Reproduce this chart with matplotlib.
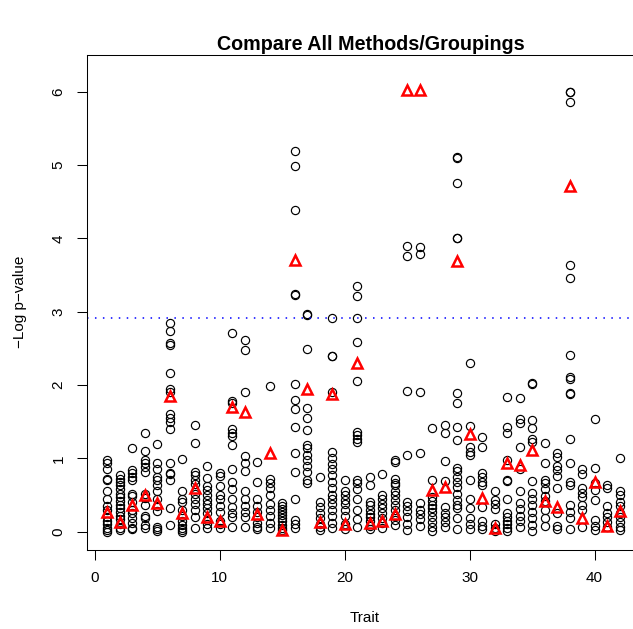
import matplotlib
matplotlib.use("Agg")
import matplotlib.pyplot as plt

plt.rcParams['font.family'] = ['Liberation Sans', 'DejaVu Sans']

traits = list(range(1, 43))

circle_vals = [
    [0.98, 0.93, 0.85, 0.72, 0.70, 0.55, 0.45, 0.35, 0.30, 0.20, 0.15, 0.10, 0.05, 0.02, 0.0],
    [0.77, 0.72, 0.68, 0.63, 0.58, 0.52, 0.47, 0.42, 0.37, 0.32, 0.27, 0.22, 0.17, 0.10, 0.05, 0.02],
    [1.14, 0.84, 0.80, 0.75, 0.71, 0.52, 0.48, 0.41, 0.30, 0.25, 0.18, 0.12, 0.05, 0.03],
    [1.34, 1.10, 0.98, 0.93, 0.88, 0.82, 0.52, 0.46, 0.37, 0.22, 0.18, 0.09, 0.05],
    [1.19, 0.93, 0.85, 0.74, 0.70, 0.63, 0.55, 0.45, 0.35, 0.28, 0.07, 0.03, 0.01],
    [2.85, 2.74, 2.57, 2.55, 2.16, 1.95, 1.90, 1.60, 1.55, 1.50, 1.40, 0.93, 0.80, 0.78, 0.70, 0.32, 0.09],
    [0.99, 0.56, 0.45, 0.40, 0.30, 0.22, 0.15, 0.09, 0.05, 0.02, 0.0],
    [1.46, 1.21, 0.82, 0.77, 0.70, 0.65, 0.52, 0.45, 0.38, 0.29, 0.20, 0.05],
    [0.89, 0.73, 0.62, 0.57, 0.50, 0.43, 0.38, 0.32, 0.25, 0.16, 0.10, 0.05],
    [0.80, 0.76, 0.62, 0.50, 0.44, 0.35, 0.27, 0.15, 0.10, 0.05],
    [2.71, 1.78, 1.75, 1.40, 1.35, 1.30, 1.18, 0.86, 0.68, 0.58, 0.45, 0.33, 0.25, 0.20, 0.06],
    [2.62, 2.48, 1.91, 1.03, 0.94, 0.83, 0.55, 0.45, 0.35, 0.27, 0.20, 0.06],
    [0.95, 0.68, 0.45, 0.35, 0.27, 0.20, 0.12, 0.07, 0.03],
    [1.98, 0.72, 0.66, 0.60, 0.50, 0.38, 0.30, 0.22, 0.12, 0.05],
    [0.39, 0.35, 0.31, 0.27, 0.23, 0.19, 0.14, 0.09, 0.05, 0.02],
    [5.19, 4.98, 4.38, 3.24, 3.23, 2.01, 1.80, 1.67, 1.43, 1.07, 0.82, 0.45, 0.16, 0.10, 0.05],
    [2.97, 2.96, 2.49, 1.69, 1.55, 1.39, 1.18, 1.14, 1.05, 0.98, 0.89, 0.82, 0.70, 0.66],
    [0.74, 0.41, 0.33, 0.25, 0.18, 0.10, 0.06, 0.02],
    [2.92, 2.40, 2.39, 1.90, 1.09, 1.00, 0.92, 0.85, 0.77, 0.68, 0.60, 0.50, 0.45, 0.38, 0.30, 0.22, 0.12, 0.05],
    [0.71, 0.55, 0.50, 0.43, 0.38, 0.30, 0.22, 0.10, 0.03],
    [3.35, 3.21, 2.92, 2.58, 2.05, 1.36, 1.32, 1.27, 1.22, 0.71, 0.66, 0.58, 0.45, 0.30, 0.17, 0.06],
    [0.75, 0.64, 0.41, 0.36, 0.30, 0.24, 0.20, 0.15, 0.08, 0.03],
    [0.79, 0.50, 0.45, 0.38, 0.32, 0.25, 0.18, 0.12, 0.05],
    [0.98, 0.95, 0.72, 0.67, 0.63, 0.56, 0.50, 0.43, 0.36, 0.30, 0.22, 0.16, 0.09],
    [3.90, 3.76, 1.92, 1.05, 0.40, 0.35, 0.28, 0.20, 0.10, 0.02],
    [3.88, 3.78, 1.91, 1.07, 0.39, 0.30, 0.24, 0.17, 0.08],
    [1.41, 0.70, 0.47, 0.42, 0.36, 0.32, 0.27, 0.20, 0.13, 0.06, 0.01],
    [1.46, 1.34, 0.96, 0.69, 0.33, 0.26, 0.20, 0.13, 0.06],
    [5.11, 5.10, 4.76, 4.01, 4.00, 1.89, 1.75, 1.43, 1.25, 0.87, 0.83, 0.74, 0.68, 0.61, 0.52, 0.43, 0.37, 0.32, 0.18, 0.04],
    [2.30, 1.44, 1.15, 1.08, 1.04, 0.71, 0.45, 0.32, 0.18, 0.10, 0.04],
    [1.29, 1.15, 0.80, 0.75, 0.68, 0.64, 0.34, 0.14, 0.08, 0.03],
    [0.55, 0.43, 0.38, 0.31, 0.10, 0.05, 0.01],
    [1.84, 1.43, 1.34, 0.98, 0.71, 0.69, 0.45, 0.25, 0.20, 0.15, 0.10, 0.05, 0.01],
    [1.82, 1.54, 1.48, 1.15, 0.85, 0.55, 0.39, 0.31, 0.22, 0.15, 0.06],
    [2.03, 2.02, 1.52, 1.41, 1.27, 1.22, 0.69, 0.53, 0.45, 0.36, 0.27, 0.18, 0.09, 0.01],
    [1.21, 0.94, 0.71, 0.67, 0.58, 0.48, 0.42, 0.30, 0.19, 0.08],
    [1.07, 1.02, 0.89, 0.84, 0.76, 0.60, 0.26, 0.08, 0.03],
    [6.00, 5.99, 5.86, 3.63, 3.46, 2.41, 2.11, 2.08, 1.89, 1.88, 1.27, 0.93, 0.68, 0.63, 0.36, 0.27, 0.18, 0.04],
    [0.85, 0.78, 0.60, 0.53, 0.47, 0.37, 0.30, 0.06],
    [1.54, 0.87, 0.66, 0.57, 0.43, 0.16, 0.08, 0.02],
    [0.64, 0.60, 0.35, 0.26, 0.20, 0.13, 0.06],
    [1.01, 0.55, 0.50, 0.41, 0.35, 0.26, 0.20, 0.13, 0.06, 0.02],
]

tri_vals = [0.27, 0.13, 0.36, 0.50, 0.39, 1.85, 0.26, 0.60, 0.20, 0.15,
            1.70, 1.63, 0.24, 1.07, 0.02, 3.71, 1.95, 0.13, 1.88, 0.11,
            2.30, 0.12, 0.15, 0.24, 6.02, 6.02, 0.57, 0.61, 3.69, 1.33,
            0.46, 0.05, 0.93, 0.91, 1.11, 0.42, 0.33, 4.71, 0.18, 0.68,
            0.08, 0.28]

threshold = 2.92

x_ticks = [0, 10, 20, 30, 40]
y_ticks = [0, 1, 2, 3, 4, 5, 6]

W, H = 633, 629
fig = plt.figure(figsize=(W / 100, H / 100), dpi=100)
ax = fig.add_axes([86.7 / W, 1 - 550 / H, (640 - 86.7) / W, (550 - 55) / H])

for t, vals in zip(traits, circle_vals):
    ax.plot([t] * len(vals), vals, linestyle='none', marker='o', ms=5.9,
            mfc='none', mec='black', mew=0.85)

ax.plot(traits, tri_vals, linestyle='none', marker='^', ms=7.0,
        mfc='none', mec='red', mew=1.8)

ax.axhline(threshold, color='blue', lw=1.1, linestyle=(0, (1, 4.2)))

ax.set_xlim(1 - 0.04 * 41, 42 + 0.04 * 41)
ax.set_ylim(0 - 0.04 * 6.25, 6.25 + 0.04 * 6.25)
ax.set_xticks(x_ticks)
ax.set_yticks(y_ticks)
ax.tick_params(direction='out', length=7.2, width=0.75, labelsize=11, pad=8)
for lbl in ax.get_yticklabels():
    lbl.set_rotation(90)
    lbl.set_va('center')
for s in ax.spines.values():
    s.set_linewidth(0.75)

fig.text(365 / W, 1 - 618 / H, 'Trait', ha='center', va='center', fontsize=11)
fig.text(20 / W, 1 - 302 / H, '\u2212Log p\u2212value', ha='center', va='center',
         rotation=90, fontsize=11)
fig.text(371 / W, 1 - 45 / H, 'Compare All Methods/Groupings', ha='center',
         va='center', fontsize=14.2, fontweight='bold')

fig.savefig('out.png', dpi=100)
